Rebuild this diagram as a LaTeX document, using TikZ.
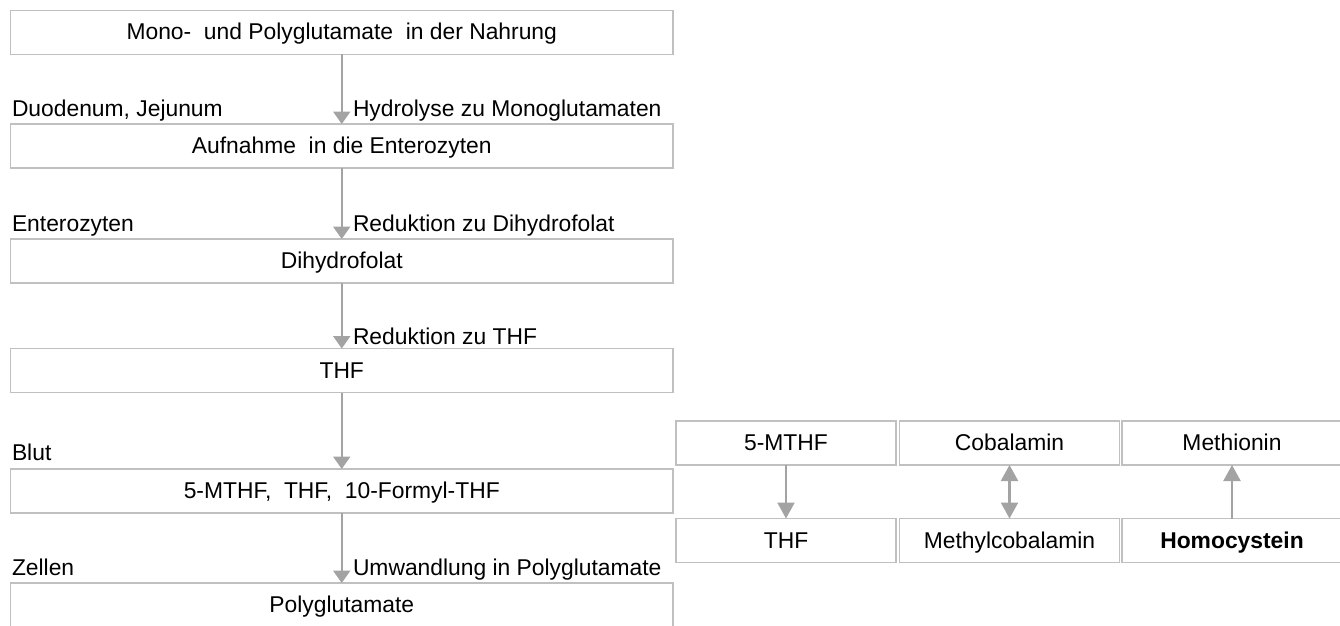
\documentclass[tikz,border=0pt]{standalone}
\usepackage{fontspec}
\setmainfont{Liberation Sans}
\usepackage{tikz}
\usetikzlibrary{arrows.meta}
\definecolor{boxgray}{RGB}{192,192,192}
\definecolor{arrowgray}{RGB}{163,163,163}
\tikzset{
    stepnode/.style = {
        align=center,
        text centered,
        rectangle,
        draw=boxgray,
        line width=0.8pt,
        minimum width=13.25cm,
        minimum height=0.88cm,
        text height=0.86em,
        text depth=0em,
        inner sep=1mm,
        outer sep=0mm
    },
    cellnode/.style = {
        stepnode,
        minimum width=4.4cm
    },
    sidenode/.style = {
        inner sep=0pt,
        outer sep=0mm
    },
    flow/.style = {
        draw=arrowgray,
        line width=1.3pt,
        -{Triangle[width=0.34cm,length=0.25cm]}
    },
    cellflow/.style = {
        draw=arrowgray,
        line width=1.3pt,
        -{Triangle[width=0.34cm,length=0.32cm]}
    }
}

\begin{document}
\begin{tikzpicture}[x=0.02cm, y=-0.02cm, font=\fontsize{13}{15.6}\selectfont]
    \useasboundingbox (0,0) rectangle (1340,626);
    % main column
    \node [stepnode] (nahrung) at (341.75,32.25) {Mono-\ \ und Polyglutamate\ \ in der Nahrung};
    \node [stepnode] (aufnahme) at (341.75,146) {Aufnahme\ \ in die Enterozyten};
    \node [stepnode] (dhf) at (341.75,261) {Dihydrofolat};
    \node [stepnode] (thf) at (341.75,370.5) {THF};
    \node [stepnode] (blut) at (341.75,491) {5-MTHF,\ \ THF,\ \ 10-Formyl-THF};
    \node [stepnode] (poly) at (341.75,605) {Polyglutamate};
    \draw [flow] (nahrung) -- (aufnahme);
    \draw [flow] (aufnahme) -- (dhf);
    \draw [flow] (dhf) -- (thf);
    \draw [flow] (thf) -- (blut);
    \draw [flow] (blut) -- (poly);
    % side labels
    \node [sidenode, anchor=base west] (ortA) at (12,116) {Duodenum, Jejunum};
    \node [sidenode, anchor=base west] (stepA) at (353,116) {Hydrolyse zu Monoglutamaten};
    \node [sidenode, anchor=base west] (ortB) at (12,231) {Enterozyten};
    \node [sidenode, anchor=base west] (stepB) at (353,231) {Reduktion zu Dihydrofolat};
    \node [sidenode, anchor=base west] (stepC) at (353,344) {Reduktion zu THF};
    \node [sidenode, anchor=base west] (ortC) at (12,460) {Blut};
    \node [sidenode, anchor=base west] (ortD) at (12,575) {Zellen};
    \node [sidenode, anchor=base west] (stepD) at (353,575) {Umwandlung in Polyglutamate};
    % methylation cycle
    \node [cellnode] (mthf) at (786,443) {5-MTHF};
    \node [cellnode] (cobal) at (1009.5,443) {Cobalamin};
    \node [cellnode] (methio) at (1232,443) {Methionin};
    \node [cellnode] (thfb) at (786,540.5) {THF};
    \node [cellnode] (mecobal) at (1009.5,540.5) {Methylcobalamin};
    \node [cellnode] (homo) at (1232,540.5) {\textbf{Homocystein}};
    \draw [cellflow] (mthf) -- (thfb);
    \draw [cellflow, {Triangle[width=0.34cm,length=0.32cm]}-{Triangle[width=0.34cm,length=0.32cm]}] (cobal) -- (mecobal);
    \draw [cellflow] (homo) -- (methio);
\end{tikzpicture}
\end{document}
